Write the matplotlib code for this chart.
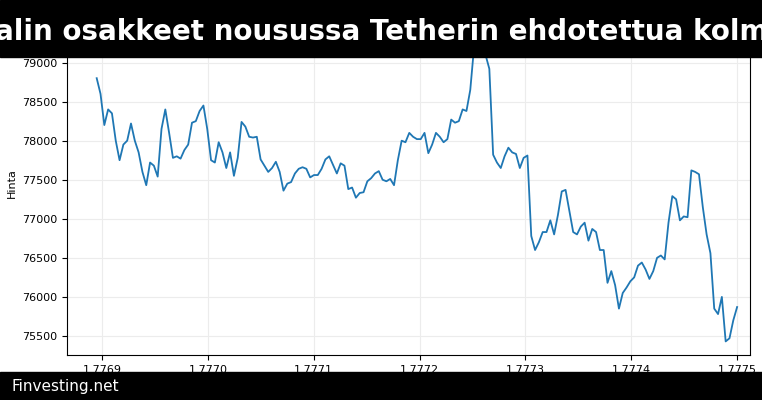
import matplotlib
matplotlib.use("Agg")
import matplotlib.pyplot as plt
import numpy as np
from matplotlib.patches import Rectangle

prices = [78800, 78600, 78200, 78400, 78350, 78000, 77750, 77950, 78000, 78220, 78000, 77850, 77600, 77430,
          77720, 77680, 77540, 78150, 78400, 78100, 77780, 77800, 77770, 77880, 77950, 78230, 78250, 78380,
          78450, 78150, 77750, 77720, 77980, 77850, 77650, 77850, 77550, 77780, 78240, 78180, 78050, 78040,
          78050, 77760, 77680, 77600, 77650, 77730, 77600, 77360, 77450, 77470, 77580, 77640, 77660, 77640,
          77530, 77560, 77560, 77640, 77760, 77800, 77690, 77580, 77710, 77680, 77380, 77400, 77270, 77330,
          77340, 77480, 77520, 77580, 77610, 77500, 77480, 77510, 77430, 77750, 78000, 77980, 78100, 78050,
          78020, 78020, 78100, 77840, 77950, 78100, 78050, 77980, 78020, 78270, 78230, 78250, 78400, 78380,
          78650, 79200, 79500, 79300, 79100, 78920, 77820, 77720, 77650, 77800, 77910, 77850, 77830, 77650,
          77780, 77810, 76780, 76600, 76700, 76830, 76830, 76980, 76800, 77050, 77350, 77370, 77100, 76830,
          76800, 76900, 76950, 76720, 76870, 76830, 76600, 76600, 76180, 76330, 76150, 75850, 76050, 76120,
          76200, 76250, 76400, 76440, 76350, 76230, 76330, 76500, 76530, 76480, 76950, 77290, 77250, 76980,
          77030, 77020, 77620, 77600, 77570, 77150, 76800, 76560, 75850, 75780, 76000, 75430, 75470, 75700,
          75870]
t_start, t_end = 1.776895, 1.777500
times = np.linspace(t_start, t_end, len(prices))
xticks = [1.7769, 1.7770, 1.7771, 1.7772, 1.7773, 1.7774, 1.7775]
yticks = [75500, 76000, 76500, 77000, 77500, 78000, 78500, 79000]
title = "alin osakkeet nousussa Tetherin ehdotettua kolme"

fig = plt.figure(figsize=(7.62, 4.0), dpi=100)
ax = fig.add_axes([0.088, 0.1125, 0.896, 0.858])
ax.plot(times, prices, color="#1f77b4", lw=1.3)
ax.set_xlim(1.776867, 1.777512)
ax.set_ylim(75256, 79650)
ax.set_xticks(xticks)
ax.set_xticklabels([f"{v:.4f}" for v in xticks])
ax.set_yticks(yticks)
ax.tick_params(labelsize=8)
ax.set_ylabel("Hinta", fontsize=8)
ax.grid(True, color="#ececec", lw=0.8)

fig.patches.append(Rectangle((0, 0.8575), 1, 0.1425, transform=fig.transFigure, color="black", zorder=10))
fig.patches.append(Rectangle((0, 0), 1, 0.07, transform=fig.transFigure, color="black", zorder=10))
fig.text(-0.006, 0.92, title, color="white", fontsize=20, fontweight="bold", ha="left", va="center", zorder=11)
fig.text(0.015, 0.035, "Finvesting.net", color="white", fontsize=11, ha="left", va="center", zorder=11)
fig.savefig("out.png", dpi=100)
